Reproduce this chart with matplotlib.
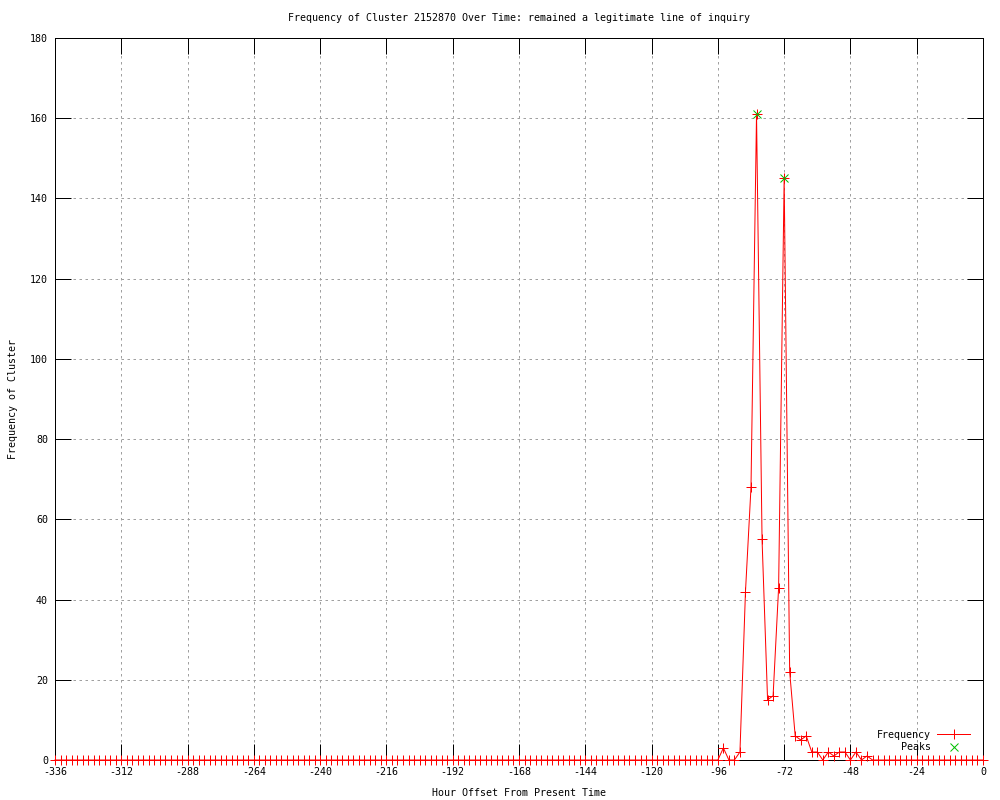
import numpy as np
import matplotlib
matplotlib.use('Agg')
import matplotlib.pyplot as plt

# Hour offsets, every 2 hours from -336 to 0
hours = list(range(-336, 1, 2))

# Cluster frequency at each offset
freq = ([0] * 121 +
        [3, 0, 0, 2, 42, 68, 161, 55, 15, 16, 43, 145, 22, 6, 5, 6,
         2, 2, 0, 2, 1, 2, 2, 0, 2, 0, 1, 0] +
        [0] * 20)

# Detected peaks
peak_hours = [-82, -72]
peak_vals = [161, 145]

title = 'Frequency of Cluster 2152870 Over Time: remained a legitimate line of inquiry'

plt.rcParams['font.family'] = ['DejaVu Sans Mono']
plt.rcParams['axes.unicode_minus'] = False
fs = 7.2
px = 0.72  # one pixel in points at 100 dpi

fig = plt.figure(figsize=(10, 8), dpi=100)
ax = fig.add_axes([55 / 1000, 40 / 800, 928 / 1000, 722 / 800])

ax.plot(hours, freq, color='red', lw=px, marker='+', markersize=6.5,
        markeredgewidth=px, label='Frequency', zorder=3, clip_on=False)
ax.plot(peak_hours, peak_vals, ls='none', color='#00c000', marker='x',
        markersize=5.5, markeredgewidth=px, label='Peaks', zorder=4)

ax.set_xlim(-336, 0)
ax.set_ylim(0, 180)
ax.set_xticks(range(-336, 1, 24))
ax.set_yticks(range(0, 181, 20))

ax.grid(True, color='#a0a0a0', lw=px, ls=(0, (2.5, 3.5)))
ax.set_axisbelow(True)
ax.tick_params(direction='in', length=11.5, width=px, top=True, right=True,
               labelsize=fs, pad=5)
for s in ax.spines.values():
    s.set_linewidth(px)

fig.text(519 / 1000, 1 - 18 / 800, title, ha='center', va='center', fontsize=fs)
fig.text(519 / 1000, 1 - 793 / 800, 'Hour Offset From Present Time',
         ha='center', va='center', fontsize=fs)
fig.text(13 / 1000, 1 - 399 / 800, 'Frequency of Cluster', ha='center',
         va='center', rotation=90, fontsize=fs)

ax.legend(loc='lower right', frameon=False, markerfirst=False, fontsize=fs,
          handlelength=3.3, handletextpad=0.6, labelspacing=0.25,
          bbox_to_anchor=(970 / 1000, 1 - 752 / 800),
          bbox_transform=fig.transFigure, borderaxespad=0, borderpad=0)

fig.savefig('out.png', dpi=100)
